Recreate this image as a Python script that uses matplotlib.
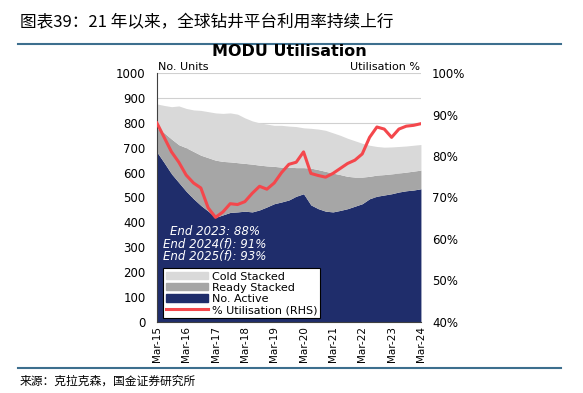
import numpy as np
import matplotlib
matplotlib.use("Agg")
import matplotlib.pyplot as plt
from matplotlib.patches import Patch
from matplotlib.lines import Line2D

plt.rcParams['font.family'] = ['DejaVu Sans', 'Noto Sans CJK SC']

# quarterly readings, Mar-15 .. Mar-24
active = [683, 640, 595, 560, 525, 495, 468, 445, 420, 430, 440, 442, 445, 442, 450,
          462, 475, 482, 490, 505, 515, 470, 455, 445, 442, 448, 455, 465, 475, 495,
          505, 510, 515, 522, 527, 530, 535]
ready_top = [779, 760, 735, 712, 700, 685, 670, 660, 650, 645, 643, 640, 637, 634, 630,
             627, 625, 622, 622, 620, 620, 618, 612, 605, 598, 592, 585, 582, 582, 585,
             590, 592, 595, 598, 602, 606, 610]
total = [876, 870, 865, 868, 858, 852, 850, 845, 840, 838, 840, 835, 820, 808, 800,
         795, 790, 790, 787, 785, 780, 778, 775, 770, 760, 750, 738, 728, 718, 710,
         705, 702, 703, 705, 707, 710, 713]
util = [88.0, 84.5, 81.0, 78.5, 75.4, 73.5, 72.3, 67.5, 65.2, 66.5, 68.5, 68.3, 69.0,
        71.0, 72.7, 72.0, 73.5, 76.0, 78.0, 78.5, 81.0, 75.8, 75.3, 74.9, 75.8, 77.0,
        78.2, 79.0, 80.5, 84.5, 87.0, 86.5, 84.5, 86.5, 87.2, 87.4, 87.8]
tick_labels = ['Mar-15', 'Mar-16', 'Mar-17', 'Mar-18', 'Mar-19', 'Mar-20',
               'Mar-21', 'Mar-22', 'Mar-23', 'Mar-24']
notes = ['End 2023: 88%', 'End 2024(f): 91%', 'End 2025(f): 93%']

navy = '#1f2d6b'
ready_c = '#a6a6a6'
cold_c = '#d9d9d9'
red = '#f4474c'

q = np.arange(len(active))

fig = plt.figure(figsize=(5.83, 3.93), dpi=100)
ax = fig.add_axes([0.269, 0.181, 0.453, 0.633])

ax.fill_between(q, 0, active, color=navy, lw=0)
ax.fill_between(q, active, ready_top, color=ready_c, lw=0)
ax.fill_between(q, ready_top, total, color=cold_c, lw=0)
ax.set_xlim(0, len(q) - 1)
ax.set_ylim(0, 1000)
ax.set_yticks(range(0, 1001, 100))
ax.yaxis.grid(True, color='#d0d0d0', lw=0.8)
ax.set_axisbelow(True)
ax.set_xticks(q[::4])
ax.set_xticklabels(tick_labels, rotation=90, fontsize=7.5)
ax.tick_params(axis='y', labelsize=8.5, length=0, pad=8)
ax.tick_params(axis='x', length=0, pad=3)
for s in ['top', 'right']:
    ax.spines[s].set_visible(False)
for s in ['left', 'bottom']:
    ax.spines[s].set_color('#404040')
    ax.spines[s].set_linewidth(0.8)

ax2 = ax.twinx()
ax2.plot(q, util, color=red, lw=2.2)
ax2.set_ylim(40, 100)
ax2.set_yticks(range(40, 101, 10))
ax2.set_yticklabels([f'{v}%' for v in range(40, 101, 10)])
ax2.tick_params(axis='y', labelsize=8.5, length=0, pad=8)
for s in ax2.spines.values():
    s.set_visible(False)

for i, t in enumerate(notes):
    ax.text(7.9, 364 - i * 51, t, color='white', style='italic', fontsize=8.5,
            ha='center', va='center')

handles = [Patch(color=cold_c), Patch(color=ready_c), Patch(color=navy),
           Line2D([], [], color=red, lw=2.2)]
leg = ax.legend(handles, ['Cold Stacked', 'Ready Stacked', 'No. Active', '% Utilisation (RHS)'],
                loc='lower left', bbox_to_anchor=(0.022, 0.014), fontsize=8,
                frameon=True, fancybox=False, framealpha=1, edgecolor='black',
                handlelength=3.8, handleheight=0.6, borderpad=0.3, labelspacing=0.1,
                handletextpad=0.3, borderaxespad=0)
leg.get_frame().set_linewidth(0.8)

fig.text(0.496, 0.868, 'MODU Utilisation', ha='center', va='center',
         fontsize=11.5, fontweight='bold')
fig.text(0.271, 0.829, 'No. Units', ha='left', va='center', fontsize=8)
fig.text(0.721, 0.829, 'Utilisation %', ha='right', va='center', fontsize=8)

fig.text(0.034, 0.943, '图表39：21 年以来，全球钻井平台利用率持续上行', ha='left', va='center',
         fontsize=12, family=['Noto Sans CJK SC', 'DejaVu Sans'], style='italic')
fig.add_artist(Line2D([0.031, 0.962], [0.887, 0.887], color='#3d6f8e', lw=1.5))
fig.add_artist(Line2D([0.031, 0.962], [0.064, 0.064], color='#3d6f8e', lw=1.5))
fig.text(0.034, 0.031, '来源：克拉克森，国金证券研究所', ha='left', va='center',
         fontsize=8.5, family=['Noto Sans CJK SC', 'DejaVu Sans'])

fig.savefig('out.png', dpi=100)
